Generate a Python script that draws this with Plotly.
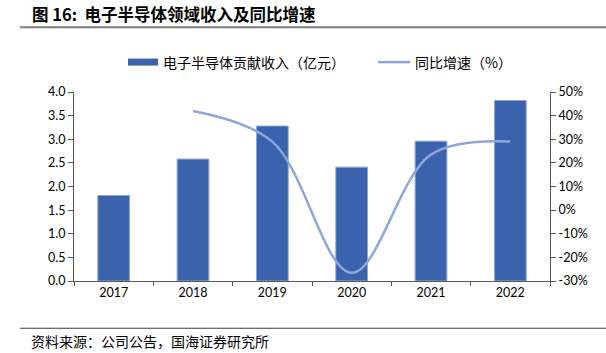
import plotly.graph_objects as go

years = ["2017", "2018", "2019", "2020", "2021", "2022"]
revenue = [1.81, 2.58, 3.28, 2.41, 2.96, 3.82]
growth = [None, 42.0, 29.0, -26.5, 23.5, 29.0]
left_ticks = [0, 0.5, 1.0, 1.5, 2.0, 2.5, 3.0, 3.5, 4.0]
right_ticks = [-30, -20, -10, 0, 10, 20, 30, 40, 50]
right_labels = ["-30%", "-20%", "-10%", "0%", "10%", "20%", "30%", "40%", "50%"]

bar_name = "电子半导体贡献收入（亿元）"
line_name = "同比增速（%）"
title_text = "<b>图 16:&nbsp;&nbsp;电子半导体领域收入及同比增速</b>"
source_text = "资料来源：公司公告，国海证券研究所"

BAR_COLOR = "#3A62AD"
LINE_COLOR = "#8FA6DA"
AXIS_COLOR = "#595959"
CJK = "Noto Sans CJK SC"
NUM = "Lato"

fig = go.Figure()
fig.add_trace(go.Bar(
    x=years, y=revenue, name=bar_name, width=0.4,
    marker=dict(color=BAR_COLOR, line=dict(color="#8FA6DA", width=1)),
    showlegend=False,
))
fig.add_trace(go.Scatter(
    x=years, y=growth, name=line_name, yaxis="y2", mode="lines",
    line=dict(color=LINE_COLOR, width=2.5, shape="spline", smoothing=1.0),
    connectgaps=False, showlegend=False,
))

fig.update_layout(
    width=606, height=353,
    margin=dict(l=74, r=56, t=92, b=72),
    paper_bgcolor="white", plot_bgcolor="white",
    font=dict(family=NUM, size=12, color="#000000"),
    xaxis=dict(
        type="category", range=[-0.5, 5.5],
        showline=True, linecolor=AXIS_COLOR, linewidth=1,
        ticks="outside", ticklen=4, tickcolor=AXIS_COLOR, tickson="boundaries",
        showgrid=False, tickfont=dict(family=NUM, size=12.5),
    ),
    yaxis=dict(
        range=[0, 4.0], tickvals=left_ticks, tickformat=".1f",
        showline=True, linecolor=AXIS_COLOR, linewidth=1,
        ticks="outside", ticklen=5, tickcolor=AXIS_COLOR,
        showgrid=False, zeroline=False, tickfont=dict(family=NUM, size=12.5),
    ),
    yaxis2=dict(
        overlaying="y", side="right", range=[-30, 50],
        tickmode="array", tickvals=right_ticks, ticktext=right_labels,
        showline=True, linecolor=AXIS_COLOR, linewidth=1,
        ticks="outside", ticklen=5, tickcolor=AXIS_COLOR,
        showgrid=False, zeroline=False, tickfont=dict(family=NUM, size=12.5),
    ),
    bargap=0.6,
)

def px(x):
    return (x - 74) / 476

def py(y):
    return (281.6 - y) / 189.6

# title and rules
fig.add_annotation(xref="paper", yref="paper", x=px(30), y=py(14),
                   xanchor="left", yanchor="middle", showarrow=False,
                   text=title_text, font=dict(family=CJK, size=16.5, color="#000000"))
fig.add_shape(type="line", xref="paper", yref="paper",
              x0=px(20), x1=px(606), y0=py(27), y1=py(27),
              line=dict(color="#808080", width=2))
fig.add_shape(type="line", xref="paper", yref="paper",
              x0=px(20), x1=px(606), y0=py(329), y1=py(329),
              line=dict(color="#404040", width=1))
fig.add_annotation(xref="paper", yref="paper", x=px(29), y=py(342),
                   xanchor="left", yanchor="middle", showarrow=False,
                   text=source_text, font=dict(family=CJK, size=14, color="#000000"))

# custom legend
ly = py(62)
fig.add_shape(type="rect", xref="paper", yref="paper",
              x0=px(128), x1=px(158), y0=ly - 3.5 / 189.6, y1=ly + 3.5 / 189.6,
              fillcolor=BAR_COLOR, line=dict(width=0))
fig.add_annotation(xref="paper", yref="paper", x=px(161), y=ly, xanchor="left", yanchor="middle",
                   showarrow=False, text=bar_name, font=dict(family=CJK, size=14, color="#000000"))
fig.add_shape(type="line", xref="paper", yref="paper",
              x0=px(378), x1=px(410), y0=ly, y1=ly,
              line=dict(color=LINE_COLOR, width=2.5))
fig.add_annotation(xref="paper", yref="paper", x=px(413), y=ly, xanchor="left", yanchor="middle",
                   showarrow=False, text=line_name, font=dict(family=CJK, size=14, color="#000000"))

fig.write_html("out.html")
